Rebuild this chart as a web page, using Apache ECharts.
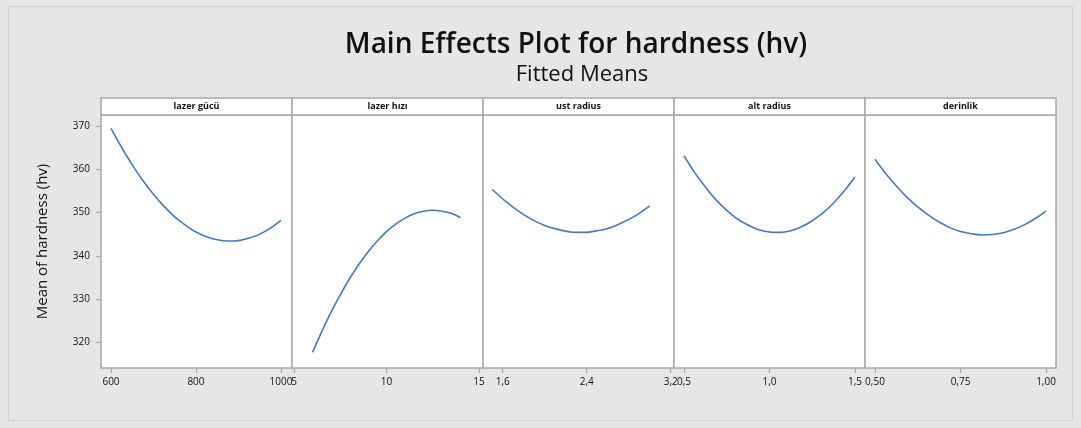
<!DOCTYPE html>
<html>
<head>
<meta charset="utf-8">
<script src="https://cdn.jsdelivr.net/npm/echarts@6/dist/echarts.min.js"></script>
<style>
  html, body { margin: 0; padding: 0; background: #e6e6e6; }
  #chart { width: 1081px; height: 428px; }
</style>
</head>
<body>
<div id="chart"></div>
<script>
// Factor names shown in the panel strips
const factors = ['lazer gücü', 'lazer hızı', 'ust radius', 'alt radius', 'derinlik'];

// Fitted mean of hardness (hv) along each factor's range
const xLazerGucu = [600, 625, 650, 675, 700, 725, 750, 775, 800, 825, 850, 875, 900, 925, 950, 975, 1000];
const yLazerGucu = [369.4, 365.0, 361.0, 357.4, 354.2, 351.4, 349.0, 347.1, 345.5, 344.4, 343.7, 343.4, 343.5, 344.1, 345.0, 346.4, 348.2];

const xLazerHizi = [6, 6.5, 7, 7.5, 8, 8.5, 9, 9.5, 10, 10.5, 11, 11.5, 12, 12.5, 13, 13.5, 14];
const yLazerHizi = [317.7, 322.5, 327.0, 331.0, 334.7, 338.0, 340.9, 343.4, 345.6, 347.3, 348.7, 349.7, 350.3, 350.5, 350.3, 349.8, 348.8];

const xUstRadius = [1.5, 1.625, 1.75, 1.875, 2.0, 2.125, 2.25, 2.375, 2.5, 2.625, 2.75, 2.875, 3.0];
const yUstRadius = [355.3, 352.6, 350.3, 348.4, 347.0, 346.1, 345.5, 345.4, 345.8, 346.5, 347.8, 349.4, 351.5];

const xAltRadius = [0.5, 0.5625, 0.625, 0.6875, 0.75, 0.8125, 0.875, 0.9375, 1.0, 1.0625, 1.125, 1.1875, 1.25, 1.3125, 1.375, 1.4375, 1.5];
const yAltRadius = [363.1, 359.2, 355.9, 352.9, 350.5, 348.5, 347.1, 346.0, 345.5, 345.4, 345.8, 346.7, 348.1, 349.9, 352.2, 355.0, 358.2];

const xDerinlik = [0.5, 0.53125, 0.5625, 0.59375, 0.625, 0.65625, 0.6875, 0.71875, 0.75, 0.78125, 0.8125, 0.84375, 0.875, 0.90625, 0.9375, 0.96875, 1.0];
const yDerinlik = [362.3, 359.0, 356.1, 353.5, 351.3, 349.4, 347.8, 346.5, 345.6, 345.1, 344.8, 344.9, 345.3, 346.1, 347.2, 348.6, 350.3];

// Tick values and decimals for each panel's x axis
const xTicks = [[600, 800, 1000], [5, 10, 15], [1.6, 2.4, 3.2], [0.5, 1.0, 1.5], [0.5, 0.75, 1.0]];
const xTickDecimals = [0, 0, 1, 1, 2];
const xRanges = [[576.5, 1026], [4.89, 15.22], [1.412, 3.231], [0.4415, 1.5585], [0.4708, 1.0292]];

// Shared y axis
const yTicks = [320, 330, 340, 350, 360, 370];
const yRange = [314.1, 372.5];

const xs = [xLazerGucu, xLazerHizi, xUstRadius, xAltRadius, xDerinlik];
const ys = [yLazerGucu, yLazerHizi, yUstRadius, yAltRadius, yDerinlik];

const FONT = 'Open Sans';
const panelLeft = 101, panelWidth = 191, plotTop = 115, plotHeight = 253, stripTop = 98;
const borderColor = '#a9a9a9';
const lineColor = '#3f7cc8';

const grids = [], xAxes = [], yAxes = [], series = [], graphics = [];

factors.forEach((name, i) => {
  const left = panelLeft + i * panelWidth;
  grids.push({
    left: left, top: plotTop, width: panelWidth, height: plotHeight,
    show: true, backgroundColor: '#ffffff', borderColor: borderColor, borderWidth: 1.5
  });
  const dec = xTickDecimals[i];
  xAxes.push({
    type: 'value', gridIndex: i,
    min: xRanges[i][0], max: xRanges[i][1],
    axisLine: { show: false },
    splitLine: { show: false },
    axisTick: { show: true, length: 5, customValues: xTicks[i], lineStyle: { color: borderColor, width: 1.2 } },
    axisLabel: {
      customValues: xTicks[i], margin: 9,
      fontFamily: FONT, fontSize: 10, color: '#111',
      formatter: v => v.toFixed(dec).replace('.', ',')
    }
  });
  yAxes.push({
    type: 'value', gridIndex: i,
    min: yRange[0], max: yRange[1],
    splitLine: { show: false },
    axisLine: { show: false },
    axisTick: { show: i === 0, length: 5, customValues: yTicks, lineStyle: { color: borderColor, width: 1.2 } },
    axisLabel: {
      show: i === 0, customValues: yTicks, margin: 11,
      fontFamily: FONT, fontSize: 10, color: '#111'
    },
    name: i === 0 ? 'Mean of hardness (hv)' : '',
    nameLocation: 'middle', nameGap: 51,
    nameTextStyle: { fontFamily: FONT, fontSize: 15, color: '#111' }
  });
  series.push({
    type: 'line', xAxisIndex: i, yAxisIndex: i,
    data: xs[i].map((x, k) => [x, ys[i][k]]),
    smooth: 0.3, showSymbol: false,
    lineStyle: { color: lineColor, width: 1.6 }
  });
  // strip header with the factor name
  graphics.push({
    type: 'rect', z: 10,
    shape: { x: left, y: stripTop, width: panelWidth, height: plotTop - stripTop },
    style: { fill: '#ffffff', stroke: borderColor, lineWidth: 1.5 }
  });
  graphics.push({
    type: 'text', z: 11,
    x: left + panelWidth / 2, y: (stripTop + plotTop) / 2,
    style: {
      text: name, fontFamily: FONT, fontSize: 9, fontWeight: 'bold', fill: '#111',
      align: 'center', verticalAlign: 'middle'
    }
  });
});

// outer frame and titles
graphics.push({
  type: 'rect', z: 0,
  shape: { x: 8.5, y: 6.5, width: 1064, height: 414 },
  style: { fill: 'none', stroke: '#d2d2d2', lineWidth: 1 }
});
graphics.push({
  type: 'text', z: 11, x: 576, y: 45,
  style: {
    text: 'Main Effects Plot for hardness (hv)', fontFamily: FONT, fontSize: 28, fontWeight: 600,
    fill: '#111', align: 'center', verticalAlign: 'middle'
  }
});
graphics.push({
  type: 'text', z: 11, x: 582, y: 75,
  style: {
    text: 'Fitted Means', fontFamily: FONT, fontSize: 22,
    fill: '#111', align: 'center', verticalAlign: 'middle'
  }
});

const chart = echarts.init(document.getElementById('chart'), null, { renderer: 'canvas' });
chart.setOption({
  backgroundColor: '#e6e6e6',
  animation: false,
  grid: grids,
  xAxis: xAxes,
  yAxis: yAxes,
  series: series,
  graphic: graphics
});
</script>
</body>
</html>
